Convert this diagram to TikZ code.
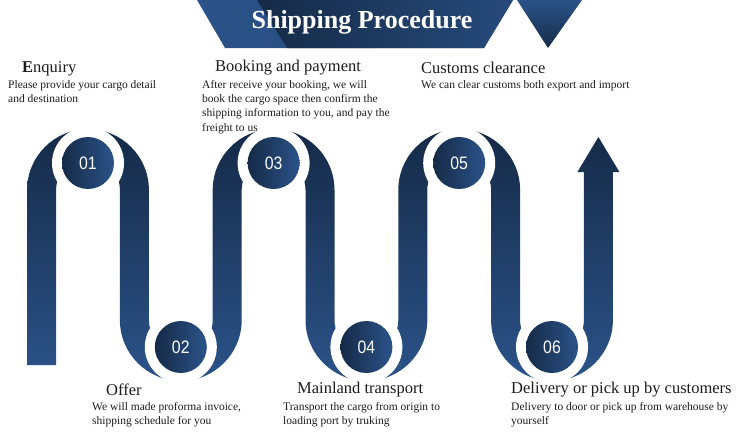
\documentclass[tikz,border=0pt]{standalone}
\usepackage{fontspec}
\setmainfont{Liberation Serif}
\newfontfamily\numfont[FakeStretch=0.88]{Liberation Sans}
\usepackage{tikz}
\usetikzlibrary{calc}
\definecolor{shipDark}{HTML}{152A47}
\definecolor{shipMid}{HTML}{1E3A62}
\definecolor{shipLight}{HTML}{2B5389}
\definecolor{shipInk}{HTML}{1C1C1C}

\begin{document}
\begin{tikzpicture}[x=1pt,y=-1pt,
  steptitle/.style={font=\fontsize{16.5}{18}\selectfont,anchor=west,inner sep=0pt,text=shipInk},
  stepbody/.style={font=\fontsize{11.5}{14.3}\selectfont,anchor=north west,align=left,inner sep=0pt,text=shipInk},
  ring/.style={circle,fill=white,minimum size=72pt,inner sep=0pt},
  badge/.style={circle,minimum size=52pt,inner sep=0pt,left color=shipDark,right color=shipLight,
    text=white,font=\numfont\fontsize{18}{18}\selectfont}]
  \useasboundingbox (0,0) rectangle (750,447);
  % title banner
  \shade[left color=shipLight,right color=shipLight!85!black] (197,0) -- (513,0) -- (484,48) -- (225,48) -- cycle;
  \shade[left color=shipDark,right color=shipLight!90!black] (257,0) -- (513,0) -- (484,48) -- (287,48) -- cycle;
  \shade[top color=shipLight,bottom color=shipDark] (517,0) -- (582,0) -- (548,48) -- cycle;
  \node[font=\bfseries\fontsize{26}{28}\selectfont,text=white] (title) at (362,22) {Shipping Procedure};
  % the winding band, outer edge up and back along the inner edge
  \shade[top color=shipDark,bottom color=shipLight]
    (27.1,365) -- (27.1,190) arc[start angle=180,end angle=360,radius=60.9]
    -- (148.9,320) arc[start angle=180,end angle=0,radius=31.9]
    -- (212.7,190) arc[start angle=180,end angle=360,radius=60.9]
    -- (334.5,320) arc[start angle=180,end angle=0,radius=31.9]
    -- (398.3,190) arc[start angle=180,end angle=360,radius=60.9]
    -- (520.1,320) arc[start angle=180,end angle=0,radius=31.9]
    -- (583.9,172) -- (577.4,172) -- (598.4,137) -- (619.4,172) -- (612.9,172)
    -- (612.9,320) arc[start angle=0,end angle=180,radius=60.9]
    -- (491.1,190) arc[start angle=0,end angle=-180,radius=31.9]
    -- (427.3,320) arc[start angle=0,end angle=180,radius=60.9]
    -- (305.5,190) arc[start angle=0,end angle=-180,radius=31.9]
    -- (241.7,320) arc[start angle=0,end angle=180,radius=60.9]
    -- (119.9,190) arc[start angle=0,end angle=-180,radius=31.9]
    -- (56.1,365) -- cycle;
  % numbered badges
  \foreach \i/\cx/\cy in {1/88/163, 2/180.8/347, 3/273.6/163, 4/366.4/347, 5/459.2/163, 6/552/347}{
    \node[ring] (ring\i) at (\cx,\cy) {};
    \node[badge] (step\i) at (\cx,\cy) {0\i};
  }
  % step texts
  \node[steptitle] (enquiry) at (22,69) {\textbf{E}nquiry};
  \node[stepbody] (enquiryTxt) at (8,80) {Please provide your cargo detail\\and destination};
  \node[steptitle] (booking) at (215,68) {Booking and payment};
  \node[stepbody] (bookingTxt) at (202,80) {After receive your booking, we will\\book the cargo space then confirm the\\shipping information to you, and pay the\\freight to us};
  \node[steptitle] (customs) at (421,68) {Customs clearance};
  \node[stepbody] (customsTxt) at (421,80) {We can clear customs both export and import};
  \node[steptitle] (offer) at (106,390) {Offer};
  \node[stepbody] (offerTxt) at (92,402) {We will made proforma invoice,\\shipping schedule for you};
  \node[steptitle] (mainland) at (297,390) {Mainland transport};
  \node[stepbody] (mainlandTxt) at (283,402) {Transport the cargo from origin to\\loading port by truking};
  \node[steptitle] (delivery) at (511,390) {Delivery or pick up by customers};
  \node[stepbody] (deliveryTxt) at (511,402) {Delivery to door or pick up from warehouse by\\yourself};
\end{tikzpicture}
\end{document}
